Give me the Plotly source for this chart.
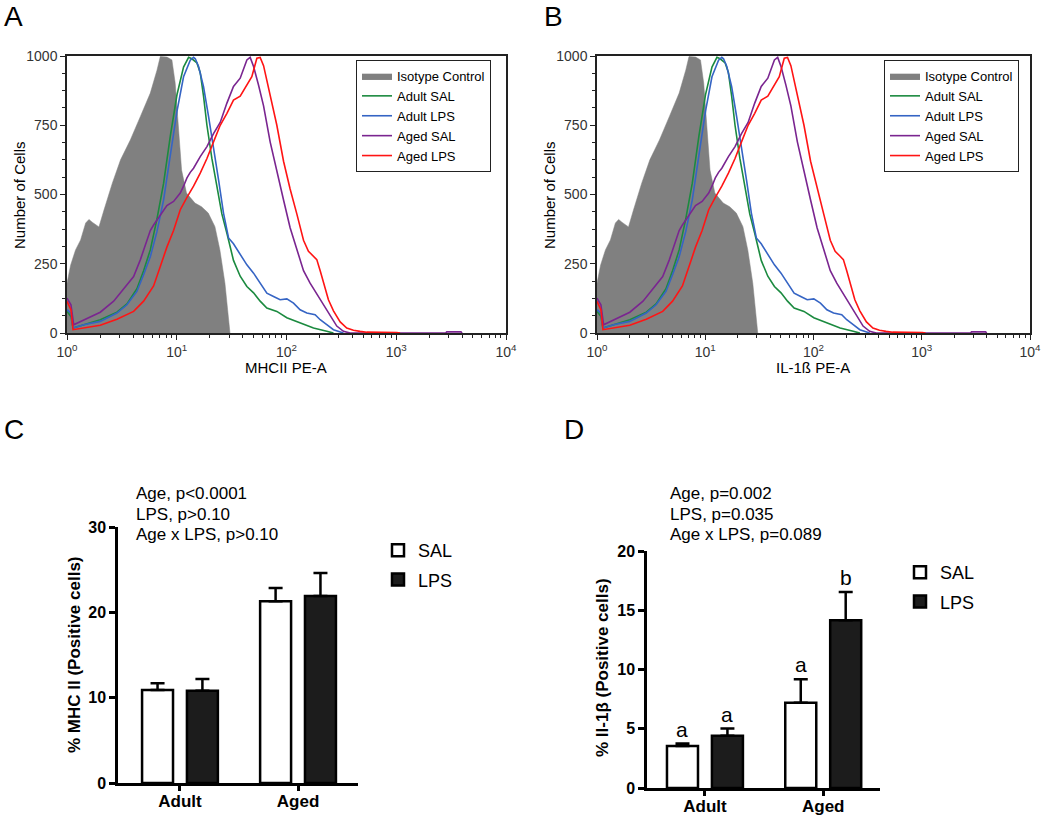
import plotly.graph_objects as go

W, H = 1050, 816
FONT = "Arial, 'Liberation Sans', sans-serif"

# ---------------- Histogram data (x = log10 of PE-A intensity, y = number of cells) ----------------
iso_log = [0.0, 0.033, 0.078, 0.124, 0.170, 0.200, 0.230, 0.291, 0.337, 0.413, 0.488, 0.577, 0.668, 0.759, 0.820,
           0.850, 0.911, 0.956, 0.986, 1.014, 1.044, 1.089, 1.166, 1.226, 1.287, 1.348, 1.393, 1.439, 1.469, 1.485]
iso_cnt = [180, 245, 300, 336, 397, 410, 400, 383, 444, 541, 625, 697, 781, 866, 949,
           998, 996, 986, 902, 745, 588, 505, 469, 456, 433, 384, 300, 180, 59, 0]

adult_sal_log = [0, 0.036, 0.055, 0.152, 0.303, 0.455, 0.546, 0.637, 0.698, 0.759, 0.819, 0.880, 0.941, 1.002, 1.062,
                 1.108, 1.138, 1.184, 1.214, 1.244, 1.275, 1.320, 1.366, 1.411, 1.457, 1.517, 1.578, 1.639, 1.700,
                 1.760, 1.821, 1.912, 2.003, 2.124, 2.246, 2.367, 2.428]
adult_sal_cnt = [78, 60, 18, 30, 48, 75, 105, 160, 225, 300, 410, 540, 710, 860, 960,
                 995, 990, 975, 940, 855, 750, 630, 530, 430, 360, 262, 205, 168, 145,
                 115, 90, 78, 55, 36, 18, 6, 0]

adult_lps_log = [0, 0.036, 0.055, 0.152, 0.303, 0.455, 0.546, 0.637, 0.698, 0.759, 0.819, 0.880, 0.941, 1.002, 1.062,
                 1.123, 1.153, 1.169, 1.199, 1.244, 1.290, 1.335, 1.381, 1.426, 1.472, 1.517, 1.578, 1.639, 1.700,
                 1.760, 1.821, 1.882, 1.942, 2.003, 2.064, 2.124, 2.185, 2.261, 2.307, 2.367, 2.428, 2.519]
adult_lps_cnt = [84, 72, 18, 30, 42, 72, 102, 150, 210, 275, 365, 480, 640, 800, 925,
                 985, 995, 990, 962, 889, 781, 673, 553, 433, 343, 322, 282, 246, 216,
                 180, 144, 132, 120, 123, 108, 84, 72, 66, 48, 30, 12, 0]

aged_sal_log = [0, 0.036, 0.061, 0.152, 0.303, 0.425, 0.546, 0.607, 0.668, 0.728, 0.759, 0.789, 0.850, 0.910, 0.971,
                1.032, 1.062, 1.093, 1.123, 1.153, 1.214, 1.275, 1.335, 1.396, 1.457, 1.517, 1.578, 1.639, 1.669,
                1.700, 1.745, 1.791, 1.851, 1.912, 1.973, 2.033, 2.094, 2.155, 2.215, 2.276, 2.337, 2.398, 2.458,
                2.519, 2.580, 3.450, 3.460, 3.590, 3.600]
aged_sal_cnt = [126, 102, 30, 48, 75, 115, 172, 204, 264, 330, 370, 390, 425, 460, 475,
                505, 530, 560, 580, 595, 637, 673, 720, 760, 830, 890, 920, 986, 995,
                962, 895, 820, 690, 580, 480, 380, 300, 225, 180, 140, 100, 62, 25,
                6, 0, 0, 4, 4, 0]

aged_lps_log = [0, 0.036, 0.055, 0.152, 0.303, 0.455, 0.607, 0.698, 0.789, 0.850, 0.910, 0.971, 1.032, 1.093, 1.153,
                1.214, 1.275, 1.335, 1.396, 1.457, 1.517, 1.578, 1.639, 1.684, 1.730, 1.760, 1.791, 1.851, 1.912,
                1.973, 2.033, 2.094, 2.155, 2.200, 2.246, 2.276, 2.307, 2.337, 2.382, 2.428, 2.489, 2.549, 2.610,
                2.671, 2.731, 3.005, 3.035]
aged_lps_cnt = [114, 84, 12, 18, 28, 50, 78, 115, 170, 240, 310, 370, 445, 490, 530,
                577, 630, 690, 750, 793, 841, 855, 895, 925, 992, 995, 965, 860, 750,
                620, 520, 430, 335, 295, 277, 265, 225, 180, 120, 80, 40, 18, 10,
                6, 3, 2, 0]

hist_series = [
    ("Adult SAL", adult_sal_log, adult_sal_cnt, "#1b8a3f"),
    ("Adult LPS", adult_lps_log, adult_lps_cnt, "#3564c4"),
    ("Aged SAL", aged_sal_log, aged_sal_cnt, "#7a2590"),
    ("Aged LPS", aged_lps_log, aged_lps_cnt, "#ff1414"),
]
hist_xticks = [1, 10, 100, 1000, 10000]
hist_xticktext = ["10<sup>0</sup>", "10<sup>1</sup>", "10<sup>2</sup>", "10<sup>3</sup>", "10<sup>4</sup>"]
hist_yticks = [0, 250, 500, 750, 1000]

# ---------------- Bar data ----------------
groups = ["Adult", "Aged"]
mhc_sal = [10.9, 21.3]
mhc_sal_err = [0.8, 1.55]
mhc_lps = [10.8, 21.9]
mhc_lps_err = [1.4, 2.7]

il_sal = [3.55, 7.2]
il_sal_err = [0.2, 1.97]
il_lps = [4.4, 14.15]
il_lps_err = [0.62, 2.39]
il_letters_sal = ["a", "a"]
il_letters_lps = ["a", "b"]

stats_c = ["Age, p<0.0001", "LPS, p>0.10", "Age x LPS, p>0.10"]
stats_d = ["Age, p=0.002", "LPS, p=0.035", "Age x LPS, p=0.089"]


def px(x):
    return x / W


def py(y):
    return 1 - y / H


fig = go.Figure()

# ---------------- Histograms A and B ----------------
for xa, ya, leg in [("x", "y", "legend"), ("x2", "y2", "legend2")]:
    fig.add_trace(go.Scatter(
        x=[10 ** v for v in iso_log], y=iso_cnt, mode="lines", fill="tozeroy",
        fillcolor="#808080", line=dict(color="#808080", width=0.5),
        name="Isotype Control", xaxis=xa, yaxis=ya, legend=leg))
    for name, lg, cnt, col in hist_series:
        fig.add_trace(go.Scatter(
            x=[10 ** v for v in lg], y=cnt, mode="lines",
            line=dict(color=col, width=1.6), name=name,
            xaxis=xa, yaxis=ya, legend=leg))

# ---------------- Bars C and D ----------------
bar_sets = [
    ("x3", "y3", "legend3", mhc_sal, mhc_sal_err, mhc_lps, mhc_lps_err, "c"),
    ("x4", "y4", "legend4", il_sal, il_sal_err, il_lps, il_lps_err, "d"),
]
for xa, ya, leg, sal, sal_e, lps, lps_e, tag in bar_sets:
    fig.add_trace(go.Bar(
        x=groups, y=sal, name="SAL", xaxis=xa, yaxis=ya, legend=leg, legendgroup=tag + "sal",
        marker=dict(color="white", line=dict(color="black", width=2.5)),
        error_y=dict(type="data", array=sal_e, arrayminus=[0] * len(sal_e), symmetric=False,
                     color="black", thickness=2.5, width=7)))
    fig.add_trace(go.Bar(
        x=groups, y=lps, name="LPS", xaxis=xa, yaxis=ya, legend=leg, legendgroup=tag + "lps",
        marker=dict(color="#1c1c1c", line=dict(color="black", width=2.5)),
        error_y=dict(type="data", array=lps_e, arrayminus=[0] * len(lps_e), symmetric=False,
                     color="black", thickness=2.5, width=7)))

minor_x = [m * 10 ** k for k in range(4) for m in range(2, 10)]


def hist_xaxis(domain, anchor):
    return dict(type="log", range=[0, 4], domain=domain, anchor=anchor, automargin=False,
                tickmode="array", tickvals=hist_xticks, ticktext=hist_xticktext,
                ticks="outside", ticklen=5, tickwidth=1.3, tickcolor="#222",
                showline=True, linecolor="#222", linewidth=1.5, mirror=True,
                showgrid=False, zeroline=False,
                tickfont=dict(family=FONT, size=14, color="#333"),
                minor=dict(tickmode="array", tickvals=minor_x, ticks="outside", ticklen=3,
                           tickwidth=1, tickcolor="#222", showgrid=False))


def hist_yaxis(domain, anchor):
    return dict(range=[0, 1000], domain=domain, anchor=anchor, automargin=False,
                tickmode="array", tickvals=hist_yticks,
                ticks="outside", ticklen=5, tickwidth=1.3, tickcolor="#222",
                showline=True, linecolor="#222", linewidth=1.5, mirror=True,
                showgrid=False, zeroline=False,
                tickfont=dict(family=FONT, size=14, color="#333"),
                minor=dict(dtick=62.5, tick0=0, ticks="outside", ticklen=3,
                           tickwidth=1, tickcolor="#222", showgrid=False))


def bar_xaxis(domain, anchor, rng):
    return dict(type="category", domain=domain, anchor=anchor, range=rng, automargin=False,
                ticks="outside", ticklen=5, tickwidth=2.5, tickcolor="black",
                showline=True, linecolor="black", linewidth=2.5, mirror=False,
                showgrid=False, zeroline=False, ticklabelstandoff=-4,
                tickfont=dict(family=FONT, size=17, color="black", weight="bold"))


def bar_yaxis(domain, anchor, rng, dtick):
    return dict(range=rng, domain=domain, anchor=anchor, dtick=dtick, tick0=0, automargin=False,
                ticks="outside", ticklen=6, tickwidth=2.5, tickcolor="black",
                showline=True, linecolor="black", linewidth=2.5, mirror=False,
                showgrid=False, zeroline=False,
                tickfont=dict(family=FONT, size=16, color="black", weight="bold"))


hist_ydom = [py(333), py(56)]
fig.update_layout(
    xaxis=hist_xaxis([px(67), px(506)], "y"),
    yaxis=hist_yaxis(hist_ydom, "x"),
    xaxis2=hist_xaxis([px(597), px(1030)], "y2"),
    yaxis2=hist_yaxis(hist_ydom, "x2"),
    xaxis3=bar_xaxis([px(118), px(358)], "y3", [-0.525, 1.508]),
    yaxis3=bar_yaxis([py(783), py(527)], "x3", [0, 30], 10),
    xaxis4=bar_xaxis([px(647), px(880)], "y4", [-0.49, 1.48]),
    yaxis4=bar_yaxis([py(788), py(551)], "x4", [0, 20], 5),
    barmode="group", bargap=0.24, bargroupgap=0.31,
)

hist_legend = dict(font=dict(family=FONT, size=13, color="black"), bgcolor="white",
                   bordercolor="#222", borderwidth=1, xanchor="left", yanchor="top",
                   tracegroupgap=0, itemclick=False)
bar_legend = dict(font=dict(family=FONT, size=18, color="black"), bgcolor="rgba(0,0,0,0)",
                  borderwidth=0, xanchor="left", yanchor="top", tracegroupgap=3,
                  traceorder="grouped")
fig.update_layout(
    legend=dict(hist_legend, x=px(356), y=py(60)),
    legend2=dict(hist_legend, x=px(884), y=py(60)),
    legend3=dict(bar_legend, x=px(378), y=py(532)),
    legend4=dict(bar_legend, x=px(900), y=py(554)),
)

ann = []


def txt(x, y, s, size, xanchor="center", yanchor="middle", angle=0, bold=False):
    ann.append(dict(x=px(x), y=py(y), xref="paper", yref="paper", text=s, showarrow=False,
                    xanchor=xanchor, yanchor=yanchor, textangle=angle,
                    font=dict(family=FONT, size=size, color="black",
                              weight="bold" if bold else "normal")))


# panel letters
txt(13, 16, "A", 28)
txt(553, 16, "B", 28)
txt(14, 429, "C", 28)
txt(574, 429, "D", 28)

# histogram axis titles
txt(19, 195, "Number of Cells", 15, angle=-90)
txt(286, 368, "MHCII PE-A", 15)
txt(549, 195, "Number of Cells", 15, angle=-90)
txt(813, 368, "IL-1ß PE-A", 15)

# bar axis titles
txt(74, 655, "% MHC II (Positive cells)", 17, angle=-90, bold=True)
txt(602, 668, "% Il-1β (Positive cells)", 17, angle=-90, bold=True)

# statistics text
for s, yy in zip(stats_c, [494, 514, 534]):
    txt(134, yy, s, 17, xanchor="left")
for s, yy in zip(stats_d, [494, 514, 534]):
    txt(668, yy, s, 17, xanchor="left")

fig.update_layout(annotations=ann)

# significance letters in D, placed on data coordinates above error bars
for i, g in enumerate(groups):
    for off, vals, errs, letters in [(-0.19, il_sal, il_sal_err, il_letters_sal),
                                     (0.19, il_lps, il_lps_err, il_letters_lps)]:
        fig.add_annotation(x=i + off, y=vals[i] + errs[i], xref="x4", yref="y4",
                           text=letters[i], showarrow=False, yanchor="bottom", yshift=1,
                           font=dict(family=FONT, size=21, color="black"))

fig.update_layout(
    width=W, height=H, margin=dict(l=0, r=0, t=0, b=0, pad=0, autoexpand=False),
    paper_bgcolor="white", plot_bgcolor="white",
    font=dict(family=FONT, color="black"),
)

fig.write_html("out.html", config={"displayModeBar": False},
               post_script="document.body.style.margin='0';document.body.style.overflow='hidden';")
